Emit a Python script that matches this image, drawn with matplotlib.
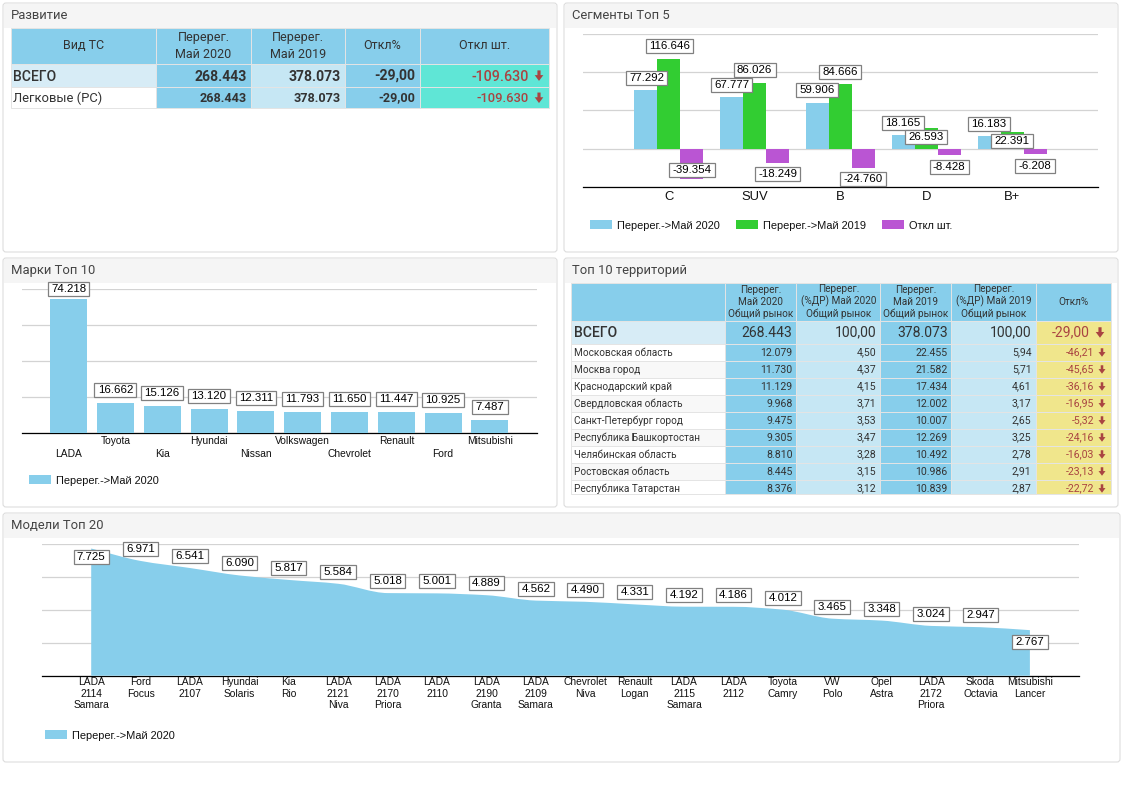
import matplotlib
matplotlib.use("Agg")
import matplotlib.pyplot as plt
from matplotlib.patches import Rectangle, FancyBboxPatch, Polygon, Patch, PathPatch
from matplotlib.path import Path
import numpy as np

# ---------- data ----------
seg_cats = ["C", "SUV", "B", "D", "B+"]
seg_2020 = [77292, 67777, 59906, 18165, 16183]
seg_2019 = [116646, 86026, 84666, 26593, 22391]
seg_diff = [-39354, -18249, -24760, -8428, -6208]
seg_names = ["Перерег.->Май 2020", "Перерег.->Май 2019", "Откл шт."]

brand_cats = ["LADA", "Toyota", "Kia", "Hyundai", "Nissan", "Volkswagen",
              "Chevrolet", "Renault", "Ford", "Mitsubishi"]
brand_vals = [74218, 16662, 15126, 13120, 12311, 11793, 11650, 11447, 10925, 7487]

model_cats = ["LADA\n2114\nSamara", "Ford\nFocus", "LADA\n2107", "Hyundai\nSolaris", "Kia\nRio",
              "LADA\n2121\nNiva", "LADA\n2170\nPriora", "LADA\n2110", "LADA\n2190\nGranta",
              "LADA\n2109\nSamara", "Chevrolet\nNiva", "Renault\nLogan", "LADA\n2115\nSamara",
              "LADA\n2112", "Toyota\nCamry", "VW\nPolo", "Opel\nAstra", "LADA\n2172\nPriora",
              "Skoda\nOctavia", "Mitsubishi\nLancer"]
model_vals = [7725, 6971, 6541, 6090, 5817, 5584, 5018, 5001, 4889, 4562,
              4490, 4331, 4192, 4186, 4012, 3465, 3348, 3024, 2947, 2767]

dev_header = ["Вид ТС", "Перерег.\nМай 2020", "Перерег.\nМай 2019", "Откл%", "Откл шт."]
dev_rows = ["ВСЕГО", "Легковые (PC)"]
dev_2020 = ["268.443", "268.443"]
dev_2019 = ["378.073", "378.073"]
dev_pct = ["-29,00", "-29,00"]
dev_abs = ["-109.630", "-109.630"]

terr_header = ["", "Перерег.\nМай 2020\nОбщий рынок", "Перерег.\n(%ДР) Май 2020\nОбщий рынок",
               "Перерег.\nМай 2019\nОбщий рынок", "Перерег.\n(%ДР) Май 2019\nОбщий рынок", "Откл%"]
terr_names = ["ВСЕГО", "Московская область", "Москва город", "Краснодарский край",
              "Свердловская область", "Санкт-Петербург город", "Республика Башкортостан",
              "Челябинская область", "Ростовская область", "Республика Татарстан"]
terr_2020 = ["268.443", "12.079", "11.730", "11.129", "9.968", "9.475", "9.305", "8.810", "8.445", "8.376"]
terr_sh20 = ["100,00", "4,50", "4,37", "4,15", "3,71", "3,53", "3,47", "3,28", "3,15", "3,12"]
terr_2019 = ["378.073", "22.455", "21.582", "17.434", "12.002", "10.007", "12.269", "10.492", "10.986", "10.839"]
terr_sh19 = ["100,00", "5,94", "5,71", "4,61", "3,17", "2,65", "3,25", "2,78", "2,91", "2,87"]
terr_pct = ["-29,00", "-46,21", "-45,65", "-36,16", "-16,95", "-5,32", "-24,16", "-16,03", "-23,13", "-22,72"]

# ---------- layout / style (pixels of the 1122x793 canvas) ----------
W, H = 1122, 793
SKY, GREEN, ORCHID = "#87CEEB", "#32CD32", "#BA55D3"
LIGHT, TOTAL, TURQ, KHAKI = "#C6E7F4", "#D7ECF6", "#5FE6D6", "#F0E68C"
DARK, RED, GRID, EDGE = "#333333", "#A94442", "#D3D3D3", "#DDDDDD"
ROBOTO, ARIAL = "Roboto", "Liberation Sans"


def px(size):
    return size * 0.72


fig = plt.figure(figsize=(W / 100, H / 100), dpi=100, facecolor="white")
base = fig.add_axes([0, 0, 1, 1], zorder=0)
base.set_xlim(0, W)
base.set_ylim(H, 0)
base.axis("off")


def panel(x0, y0, x1, y1, title):
    base.add_patch(FancyBboxPatch((x0, y0), x1 - x0, y1 - y0, boxstyle="round,pad=0,rounding_size=3",
                                  fc="white", ec=EDGE, lw=0.8))
    base.add_patch(Rectangle((x0 + 0.6, y0 + 0.6), x1 - x0 - 1.2, 24, fc="#F5F5F5", ec="none"))
    base.text(x0 + 8.3, y0 + 12.2, title, family=ROBOTO, fontsize=px(13), color="#444444",
              va="center", ha="left")


panel(3, 3, 557, 252, "Развитие")
panel(564, 3, 1118, 252, "Сегменты Топ 5")
panel(3, 258, 557, 507, "Марки Топ 10")
panel(564, 258, 1118, 507, "Топ 10 территорий")
panel(3, 513, 1120, 762, "Модели Топ 20")


def cell(x0, y0, x1, y1, color):
    base.add_patch(Rectangle((x0, y0), x1 - x0, y1 - y0, fc=color, ec="#E4E4E4", lw=0.7))


def txt(x, y, s, size, ha="right", weight="normal", color=DARK):
    """One line of table text, vertically centred on its capitals; a comma's descent
    rounds the glyph bitmap one pixel low, so such strings are lifted back."""
    lift = 0.8 if "," in s else 0
    base.text(x, y + 0.355 * size - lift, s, family=ROBOTO, fontsize=px(size), ha=ha, va="baseline",
              fontweight=weight, color=color)


def head(x, y, s, size, linespacing):
    base.text(x, y, s, family=ROBOTO, fontsize=px(size), ha="center", va="center", color=DARK,
              linespacing=linespacing)


def down_arrow(xc, yc, size):
    s = size / 2
    pts = [(-0.3, -1), (0.3, -1), (0.3, -0.1), (0.82, -0.1), (0, 1), (-0.82, -0.1), (-0.3, -0.1)]
    base.add_patch(Polygon([(xc + a * s, yc + b * s) for a, b in pts], closed=True, fc=RED, ec="none"))


# ---------- table "Развитие" ----------
dx = [10.7, 156.4, 250.7, 344.6, 419.6, 549.3]
dy = [27.7, 64, 87.3, 108.3]
for i, label in enumerate(dev_header):
    cell(dx[i], dy[0], dx[i + 1], dy[1], SKY)
    head((dx[i] + dx[i + 1]) / 2, (dy[0] + dy[1]) / 2, label, 12.5, 1.42)
for r, name in enumerate(dev_rows):
    y0, y1 = dy[r + 1], dy[r + 2]
    ym = (y0 + y1) / 2
    big = 14 if r == 0 else 13
    cell(dx[0], y0, dx[1], y1, TOTAL if r == 0 else "white")
    cell(dx[1], y0, dx[2], y1, SKY)
    cell(dx[2], y0, dx[3], y1, LIGHT)
    cell(dx[3], y0, dx[4], y1, SKY)
    cell(dx[4], y0, dx[5], y1, TURQ)
    txt(13, ym, name, big, ha="left", weight="medium" if r == 0 else "normal")
    txt(246.4, ym, dev_2020[r], big - (0 if r == 0 else 0.4), weight="bold")
    txt(341, ym, dev_2019[r], big - (0 if r == 0 else 0.4), weight="bold")
    txt(415, ym, dev_pct[r], big - (0 if r == 0 else 0.4), weight="bold")
    txt(528.5, ym, dev_abs[r], big + (0.3 if r == 0 else 0), color=RED, weight="medium")
    down_arrow(539, ym, 10.5)

# ---------- table "Топ 10 территорий" ----------
tx = [571.4, 725.2, 796.3, 880.5, 951.5, 1035.7, 1110.6]
ty = [282.7, 321, 344, 361, 378, 395, 412, 429, 446, 463, 480, 494]
tr = [792.4, 876.2, 947.6, 1031.4]
for i, label in enumerate(terr_header):
    cell(tx[i], ty[0], tx[i + 1], ty[1], SKY)
    head((tx[i] + tx[i + 1]) / 2, (ty[0] + ty[1]) / 2, label, 10, 1.17)
for r, name in enumerate(terr_names):
    y0, y1 = ty[r + 1], ty[r + 2]
    ym = y0 + 8.5 if r else (y0 + y1) / 2
    size = 14 if r == 0 else 10.5
    first = TOTAL if r == 0 else ("white" if r % 2 else "#F8F8F8")
    for i, c in enumerate([first, SKY, LIGHT, SKY, LIGHT, KHAKI]):
        cell(tx[i], y0, tx[i + 1], y1, c)
    txt(574, ym, name, 14 if r == 0 else 10, ha="left", weight="medium" if r == 0 else "normal")
    for xr, col in zip(tr, [terr_2020, terr_sh20, terr_2019, terr_sh19]):
        txt(xr, ym, col[r], size)
    if r == 0:
        txt(1089.3, ym, terr_pct[r], size, color=RED)
        down_arrow(1100, ym, 10.5)
    else:
        txt(1094.3, ym, terr_pct[r], size, color=RED)
        down_arrow(1102, ym, 8.5)


# ---------- chart helpers ----------
def chart(x0, y0, x1, y1, yticks, xticks, xlabels, xmin, xmax, ylim, size, pad):
    ax = fig.add_axes([x0 / W, 1 - y1 / H, (x1 - x0) / W, (y1 - y0) / H], zorder=1)
    ax.patch.set_alpha(0)
    ax.set_xlim(xmin, xmax)
    ax.set_ylim(*ylim)
    ax.set_yticks(yticks)
    ax.set_yticklabels([])
    ax.set_xticks(xticks)
    ax.set_xticklabels(xlabels, family=ARIAL, fontsize=px(size), color="#111111", linespacing=1.2)
    ax.tick_params(length=0, pad=pad)
    ax.grid(axis="y", color=GRID, lw=0.9)
    ax.set_axisbelow(True)
    for side in ("top", "left", "right"):
        ax.spines[side].set_visible(False)
    ax.spines["bottom"].set_color("black")
    ax.spines["bottom"].set_linewidth(0.9)
    return ax


def fmt(v):
    return f"{v:,}".replace(",", ".")


class TagBox:
    """Label frame: fixed 14 px height, small side padding (canvas pixels)."""

    def __call__(self, x0, y0, w, h, mutation_size):
        yc = y0 + h / 2
        l, r = x0 - 3.3, x0 + w + 3.3
        b, t = yc - 7, yc + 7
        return Path([(l, b), (r, b), (r, t), (l, t), (l, b)],
                    [Path.MOVETO, Path.LINETO, Path.LINETO, Path.LINETO, Path.CLOSEPOLY])


def tag(ax, x, v, off):
    ax.annotate(fmt(v), xy=(x, v), xytext=off, textcoords="offset pixels", ha="center", va="center",
                family=ARIAL, fontsize=px(11.5), color="black", zorder=6, annotation_clip=False,
                bbox=dict(boxstyle=TagBox(), fc="white", ec="#808080", lw=0.9))


def legend(ax, handles, labels, x, y, ncol=1):
    leg = ax.legend(handles, labels, loc="center left", bbox_to_anchor=(x / W, 1 - y / H),
                    bbox_transform=fig.transFigure, ncol=ncol, frameon=False, borderpad=0, borderaxespad=0,
                    handlelength=22 / 11, handleheight=9 / 11, handletextpad=5 / 11, columnspacing=16 / 11,
                    prop=dict(family=ARIAL, size=px(11)))
    for t in leg.get_texts():
        t.set_color("#111111")


# ---------- chart "Сегменты Топ 5" ----------
ax = chart(582.8, 33.8, 1098, 187.2, [-50000, 0, 50000, 100000, 150000], range(5), seg_cats,
           -1, 5, (-50000, 150000), 13, 3)
x = np.arange(len(seg_cats))
bw = 23 / 85.85
b1 = ax.bar(x - bw, seg_2020, bw, color=SKY, zorder=3)
b2 = ax.bar(x, seg_2019, bw, color=GREEN, zorder=3)
b3 = ax.bar(x + bw, seg_diff, bw, color=ORCHID, zorder=3)
off_2020 = [(1, 12), (0, 12), (0, 13), (0, 12), (0, 12)]
off_2019 = [(1, 13), (0, 13), (0, 12), (0, -9), (0, -9)]
off_diff = [(0, 9), (0, -11), (0, -11), (0, -12), (0, -12)]
for i in range(5):
    tag(ax, x[i] - bw, seg_2020[i], off_2020[i])
    tag(ax, x[i], seg_2019[i], off_2019[i])
    tag(ax, x[i] + bw, seg_diff[i], off_diff[i])
legend(ax, [b1, b2, b3], seg_names, 590, 225.5, ncol=3)

# ---------- chart "Марки Топ 10" ----------
brand_labels = [("\n" if i % 2 == 0 else "") + c for i, c in enumerate(brand_cats)]
ax = chart(21.8, 289, 536.8, 433, [0, 20000, 40000, 60000, 80000], range(10), brand_labels,
           -1, 10, (0, 80000), 10.3, 2)
for t in ax.get_xticklabels():
    t.set_linespacing(1.4)
bars = ax.bar(np.arange(10), brand_vals, 0.79, color=SKY, zorder=3)
for i, v in enumerate(brand_vals):
    tag(ax, i, v, (0, 10 if i == 0 else 13))
legend(ax, [bars], [seg_names[0]], 29, 480.5)

# ---------- chart "Модели Топ 20" ----------
ax = chart(41.8, 544, 1079.3, 675.7, [0, 2000, 4000, 6000, 8000], range(20), model_cats,
           -1, 20, (0, 8000), 10.3, 1)
xs = np.arange(len(model_vals), dtype=float)
ys = np.array(model_vals, dtype=float)
d = np.diff(ys)
m = np.zeros_like(ys)
m[1:-1] = 2 * d[:-1] * d[1:] / (d[:-1] + d[1:])
m[0], m[-1] = d[0], d[-1]
verts = [(xs[0], 0), (xs[0], ys[0])]
codes = [Path.MOVETO, Path.LINETO]
for i in range(len(xs) - 1):
    verts += [(xs[i] + 1 / 3, ys[i] + m[i] / 3), (xs[i + 1] - 1 / 3, ys[i + 1] - m[i + 1] / 3), (xs[i + 1], ys[i + 1])]
    codes += [Path.CURVE4] * 3
verts += [(xs[-1], 0), (xs[0], 0)]
codes += [Path.LINETO, Path.CLOSEPOLY]
ax.add_patch(PathPatch(Path(verts, codes), fc=SKY, ec="none", zorder=3))
for i, v in enumerate(model_vals):
    off = (0, -8) if i == 0 else ((0, -12) if i == len(model_vals) - 1 else (0, 12))
    tag(ax, i, v, off)
legend(ax, [Patch(fc=SKY)], [seg_names[0]], 45, 735.5)

fig.savefig("out.png", dpi=100, facecolor="white")
